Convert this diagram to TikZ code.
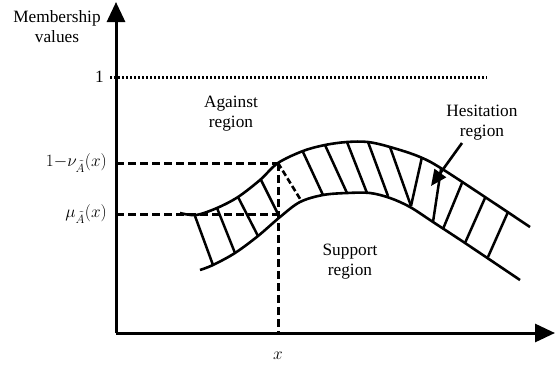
\documentclass[tikz,border=0pt]{standalone}
\usepackage{amsmath,amssymb}
\usepackage{fontspec}
\setmainfont{Liberation Serif}
\usetikzlibrary{arrows.meta,positioning}

\begin{document}
\begin{tikzpicture}[x=1pt, y=-1pt,
    eje/.style={line width=3pt, -{Triangle[length=20pt, width=18pt]}},
    curva/.style={line width=2.6pt, smooth, tension=0.55},
    rayado/.style={line width=2.5pt},
    guia/.style={line width=3pt, dash pattern=on 8pt off 4pt},
    punteada/.style={line width=3pt, dash pattern=on 2.4pt off 1.6pt},
    etiqueta/.style={font=\fontsize{17.28}{20}\selectfont, align=center, inner sep=0pt},
    flecha/.style={line width=2.6pt, -{Triangle[length=16pt, width=14pt]}}
  ]
  \useasboundingbox (0,0) rectangle (555,365);

  % Ejes
  \coordinate (O) at (116,333);
  \coordinate (ytop) at (116,2);
  \coordinate (xend) at (555,333);
  \draw[eje] (O) -- (ytop);
  \draw[eje] (O) -- (xend);

  % Referencias en los ejes
  \coordinate (uno) at (110,77);
  \coordinate (unofin) at (487,77);
  \coordinate (nu) at (116,163);
  \coordinate (mu) at (116,214);
  \coordinate (P) at (278,163);
  \coordinate (Q) at (278,214);
  \coordinate (xpie) at (278,333);
  \draw[punteada] (uno) -- (unofin);
  \draw[guia] (nu) -- (P);
  \draw[guia] (mu) -- (Q);
  \draw[guia] (P) -- (xpie);

  % Banda de duda
  \draw[curva] plot coordinates {(180,213) (196,215) (217,208) (238,197)
    (260,180) (278,163) (303,151) (325,145) (347,142) (368,142) (390,147)
    (420,157) (447,172) (530,227)};
  \draw[curva] plot coordinates {(200,270) (213,265) (235,253) (258,236)
    (280,217) (300,202) (323,195) (347,193) (370,193) (390,198) (410,207)
    (433,222) (465,243) (520,280)};

  % Rayado
  \foreach \xa/\ya/\xb/\yb in {195/216/213/265, 217/208/235/253, 238/197/258/236,
      261/180/278/214, 303/152/323/195, 325/145/347/193, 347/142/367/193,
      368/142/388/196, 390/147/411/206, 411/206/422/157, 441/169/433/222,
      462/183/443/229, 485/198/465/243, 508/212/488/257} {
    \draw[rayado] (\xa,\ya) -- (\xb,\yb);
  }
  \coordinate (R) at (302,202);
  \draw[guia, line width=2.6pt, dash pattern=on 6pt off 3pt] (P) -- (R);

  % Textos
  \node[etiqueta] (memb) at (57,27) {Membership\\values};
  \node[etiqueta, anchor=east] (etuno) at (104,77) {1};
  \node[etiqueta, anchor=east] (etnu) at (107,163) {$1{-}\nu_{\tilde{A}}(x)$};
  \node[etiqueta, anchor=east] (etmu) at (107,214) {$\mu_{\tilde{A}}(x)$};
  \node[etiqueta] (etx) at (278,356) {$x$};
  \node[etiqueta] (contra) at (231,114) {Against\\region};
  \node[etiqueta] (apoyo) at (350,262) {Support\\region};
  \node[etiqueta] (duda) at (482,123) {Hesitation\\region};
  \coordinate (cola) at (462,143);
  \coordinate (punta) at (431,186);
  \draw[flecha] (cola) -- (punta);
\end{tikzpicture}
\end{document}
